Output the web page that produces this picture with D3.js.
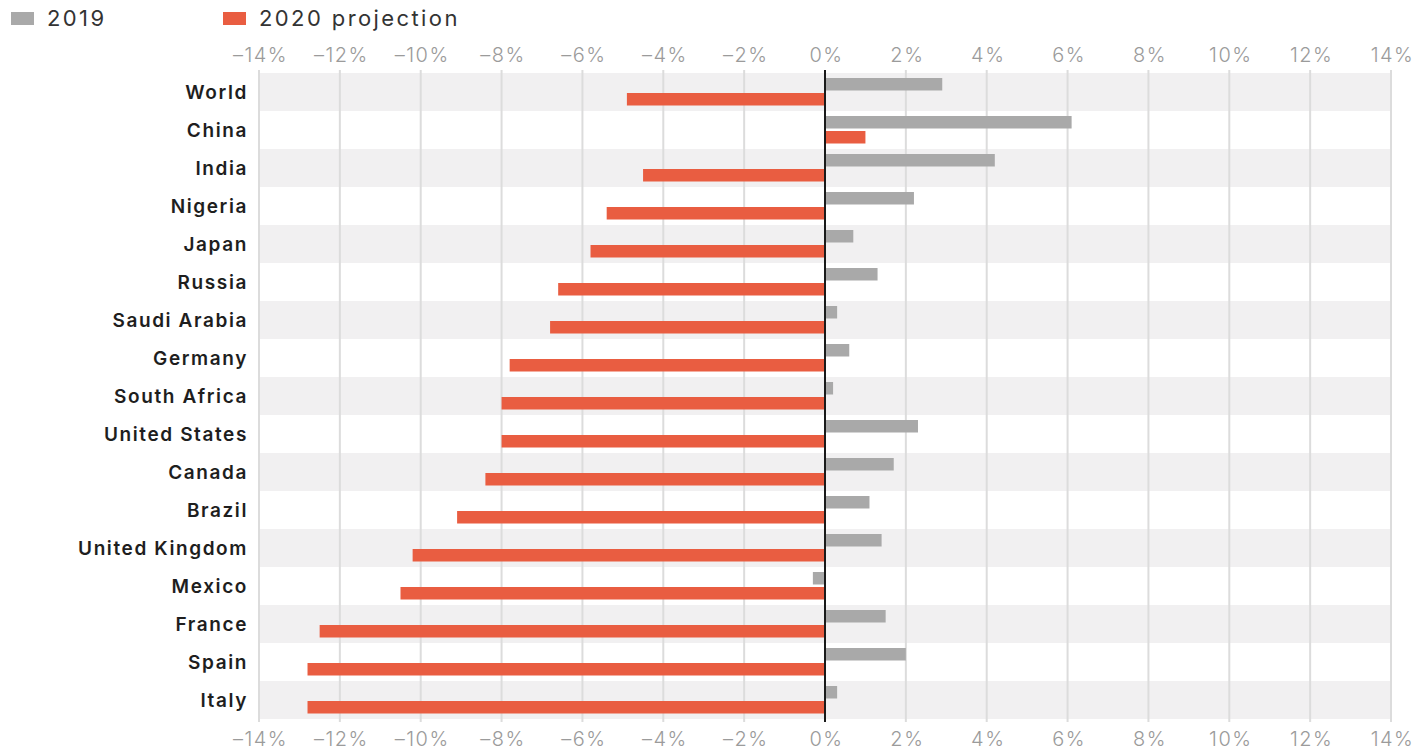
<!DOCTYPE html>
<html>
<head>
<meta charset="utf-8">
<script src="https://cdn.jsdelivr.net/npm/d3@7"></script>
<style>
  body { margin: 0; background: #fff; }
  text { font-family: Inter, "Noto Sans", sans-serif; }
</style>
</head>
<body>
<svg id="chart"></svg>
<script>
var countries = ["World", "China", "India", "Nigeria", "Japan", "Russia", "Saudi Arabia", "Germany",
    "South Africa", "United States", "Canada", "Brazil", "United Kingdom", "Mexico", "France", "Spain", "Italy"];
var growth2019 = [2.9, 6.1, 4.2, 2.2, 0.7, 1.3, 0.3, 0.6, 0.2, 2.3, 1.7, 1.1, 1.4, -0.3, 1.5, 2.0, 0.3];
var growth2020 = [-4.9, 1.0, -4.5, -5.4, -5.8, -6.6, -6.8, -7.8, -8.0, -8.0, -8.4, -9.1, -10.2, -10.5, -12.5, -12.8, -12.8];
var tickValues = [-14, -12, -10, -8, -6, -4, -2, 0, 2, 4, 6, 8, 10, 12, 14];
var seriesNames = ["2019", "2020 projection"];

var width = 1420, height = 751;
var colors = ["#a9a9a9", "#e95d41"];

var svg = d3.select("#chart")
    .attr("width", width)
    .attr("height", height);

var x = d3.scaleLinear()
    .domain([-14, 14])
    .range([259, 1391]);

var y = d3.scaleBand()
    .domain(countries)
    .range([73, 719])
    .padding(0);

// alternating stripes
svg.selectAll("rect.stripe")
    .data(countries.filter(function(d, i) { return i % 2 == 0; }))
    .enter().append("rect")
    .attr("class", "stripe")
    .attr("x", x(-14))
    .attr("width", x(14) - x(-14))
    .attr("y", function(d) { return y(d); })
    .attr("height", y.bandwidth())
    .attr("fill", "#f1f0f1");

// gridlines
svg.selectAll("line.grid")
    .data(tickValues.filter(function(d) { return d != 0; }))
    .enter().append("line")
    .attr("class", "grid")
    .attr("x1", function(d) { return x(d); })
    .attr("x2", function(d) { return x(d); })
    .attr("y1", 70)
    .attr("y2", 722)
    .attr("stroke", "#dcdcdc")
    .attr("stroke-width", 2);

// axes (top and bottom), labels only
function styleAxis(g) {
    g.select(".domain").remove();
    g.selectAll(".tick line").remove();
    g.selectAll(".tick text")
        .attr("fill", "#9b9b9b")
        .attr("font-size", 20)
        .attr("font-weight", 300)
        .attr("letter-spacing", 1.5)
        .attr("dx", 1);
}
var fmt = function(d) { return (d < 0 ? "\u2013" + Math.abs(d) : d) + "%"; };

svg.append("g")
    .attr("transform", "translate(0,62)")
    .call(d3.axisTop(x).tickValues(tickValues).tickFormat(fmt).tickSize(0).tickPadding(0))
    .call(styleAxis);

svg.append("g")
    .attr("transform", "translate(0,728)")
    .call(d3.axisBottom(x).tickValues(tickValues).tickFormat(fmt).tickSize(0).tickPadding(0))
    .call(styleAxis)
    .selectAll(".tick text").attr("dy", "0.9em");

// bars
var barH = 12.5;
svg.selectAll("rect.b2019")
    .data(countries)
    .enter().append("rect")
    .attr("class", "b2019")
    .attr("x", function(d, i) { return x(Math.min(0, growth2019[i])); })
    .attr("width", function(d, i) { return Math.abs(x(growth2019[i]) - x(0)); })
    .attr("y", function(d) { return y(d) + 5; })
    .attr("height", barH)
    .attr("fill", colors[0]);

svg.selectAll("rect.b2020")
    .data(countries)
    .enter().append("rect")
    .attr("class", "b2020")
    .attr("x", function(d, i) { return x(Math.min(0, growth2020[i])); })
    .attr("width", function(d, i) { return Math.abs(x(growth2020[i]) - x(0)); })
    .attr("y", function(d) { return y(d) + 20; })
    .attr("height", barH)
    .attr("fill", colors[1]);

// zero line
svg.append("line")
    .attr("x1", x(0)).attr("x2", x(0))
    .attr("y1", 70).attr("y2", 722)
    .attr("stroke", "#1a1a1a")
    .attr("stroke-width", 2);

// country labels
svg.selectAll("text.country")
    .data(countries)
    .enter().append("text")
    .attr("class", "country")
    .attr("x", 248)
    .attr("y", function(d) { return y(d) + y.bandwidth() / 2; })
    .attr("dy", "0.35em")
    .attr("text-anchor", "end")
    .attr("font-size", 19)
    .attr("font-weight", 600)
    .attr("letter-spacing", 1.6)
    .attr("fill", "#1e1e1e")
    .text(function(d) { return d; });

// legend
var legendX = [11, 223];
var legend = svg.selectAll("g.legend")
    .data(seriesNames)
    .enter().append("g")
    .attr("class", "legend")
    .attr("transform", function(d, i) { return "translate(" + legendX[i] + ",0)"; });
legend.append("rect")
    .attr("x", 0).attr("y", 12)
    .attr("width", 23).attr("height", 13)
    .attr("fill", function(d, i) { return colors[i]; });
legend.append("text")
    .attr("x", 36).attr("y", 18.5)
    .attr("dy", "0.35em")
    .attr("font-size", 22)
    .attr("letter-spacing", 2.4)
    .attr("fill", "#333")
    .text(function(d) { return d; });
</script>
</body>
</html>
